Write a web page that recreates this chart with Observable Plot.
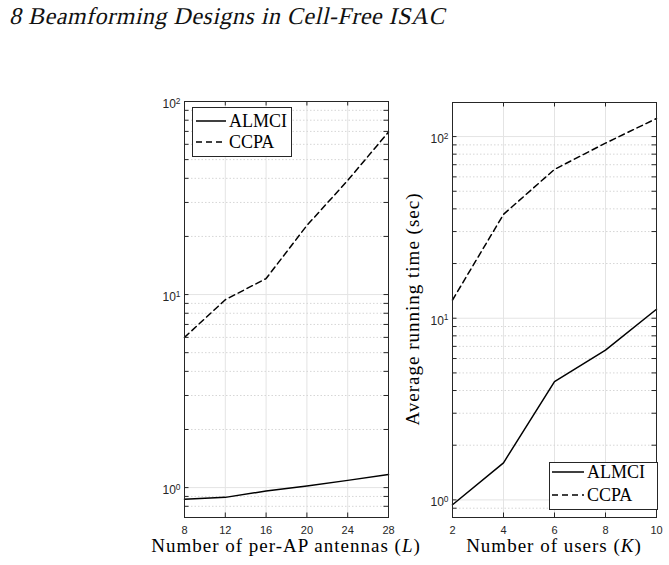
<!DOCTYPE html>
<html>
<head>
<meta charset="utf-8">
<script src="https://cdn.jsdelivr.net/npm/d3@7"></script>
<script src="https://cdn.jsdelivr.net/npm/@observablehq/plot@0.6"></script>
<style>
  body { margin: 0; background: #fff; }
  #page { position: relative; width: 669px; height: 565px; overflow: hidden; background: #fff; }
  .title { position: absolute; left: 9px; top: 4px; line-height: 24px; font-family: "Liberation Serif", serif; font-size: 24px; letter-spacing: 0.5px; color: #111; white-space: nowrap; transform: skewX(-13deg); transform-origin: 0 20px; }
  .panel { position: absolute; top: 80px; }
  .xlabel { position: absolute; top: 538px; line-height: 15px; font-family: "Liberation Serif", serif; font-size: 19px; letter-spacing: 1px; color: #000; white-space: nowrap; transform: translateX(-50%); }
  .ylabel { position: absolute; line-height: 19px; font-family: "Liberation Serif", serif; font-size: 19px; letter-spacing: 1px; color: #000; white-space: nowrap; transform: translate(-50%, -50%) rotate(-90deg); }
  .legend { position: absolute; box-sizing: border-box; border: 1px solid #262626; background: #fff; }
  .legend .row { position: absolute; height: 20px; display: flex; align-items: center; }
  .legend .row span { font-family: "Liberation Serif", serif; font-size: 18px; line-height: 20px; color: #000; margin-left: 3px; }
</style>
</head>
<body>
<div id="page">
  <div class="title">8 Beamforming Designs in Cell-Free ISAC</div>
</div>
<script>
// Running time vs. number of per-AP antennas L
const antennas = [8, 12, 16, 20, 24, 28];
const almciVsAntennas = [0.87, 0.89, 0.96, 1.02, 1.09, 1.17];
const ccpaVsAntennas = [6.0, 9.4, 12.1, 22.8, 39, 69.5];

// Running time vs. number of users K
const users = [2, 4, 6, 8, 10];
const almciVsUsers = [0.94, 1.6, 4.48, 6.67, 11.2];
const ccpaVsUsers = [12.6, 37.3, 66, 92, 125.7];

const seriesNames = ["ALMCI", "CCPA"];
const antennaTicks = [8, 12, 16, 20, 24, 28];
const userTicks = [2, 4, 6, 8, 10];
const decadeTicks = [1, 10, 100];

const ink = "#262626";
const majorGrid = "#e4e4e4";
const minorGrid = "#d6d6d6";
const ccpaDash = "6,4";

// 2..9 × 10^k between the axis limits
function minorTicks(lo, hi) {
  const out = [];
  for (let e = Math.floor(Math.log10(lo)); e <= Math.ceil(Math.log10(hi)); e++) {
    for (let m = 2; m <= 9; m++) {
      const v = +(m * Math.pow(10, e)).toPrecision(6);
      if (v > lo * 1.0001 && v < hi * 0.9999) out.push(v);
    }
  }
  return out;
}

// turn "10^2" tick labels into 10 with a raised exponent
function superscriptPowers(svg) {
  svg.querySelectorAll("text").forEach(t => {
    const m = /^10\^(-?\d+)$/.exec(t.textContent);
    if (!m) return;
    t.textContent = "10";
    t.setAttribute("font-size", "12");
    const sup = document.createElementNS("http://www.w3.org/2000/svg", "tspan");
    sup.setAttribute("dy", "-0.5em");
    sup.setAttribute("font-size", "0.7em");
    sup.textContent = m[1];
    t.appendChild(sup);
  });
}

function drawPanel({xs, almci, ccpa, xTicks, yDomain, width, height, margin}) {
  const fw = width - margin.left - margin.right;
  const fh = height - margin.top - margin.bottom;
  const tick = 4.5;
  const minors = minorTicks(yDomain[0], yDomain[1]);
  const majors = decadeTicks.filter(d => d >= yDomain[0] && d <= yDomain[1]);
  const almciRows = xs.map((x, i) => ({x, y: almci[i], series: seriesNames[0]}));
  const ccpaRows = xs.map((x, i) => ({x, y: ccpa[i], series: seriesNames[1]}));

  const svg = Plot.plot({
    width, height,
    marginLeft: margin.left, marginRight: margin.right,
    marginTop: margin.top, marginBottom: margin.bottom,
    style: {fontFamily: "'Liberation Sans', Arial, sans-serif", fontSize: "11px", color: ink, background: "transparent", overflow: "visible"},
    x: {domain: [xTicks[0], xTicks[xTicks.length - 1]]},
    y: {type: "log", domain: yDomain},
    marks: [
      Plot.gridX({ticks: xTicks, stroke: majorGrid, strokeOpacity: 1}),
      Plot.ruleY(minors, {stroke: minorGrid, strokeDasharray: "1.5,2"}),
      Plot.gridY({ticks: majors, stroke: majorGrid, strokeOpacity: 1}),
      Plot.line(almciRows, {x: "x", y: "y", stroke: "#000", strokeWidth: 1.5}),
      Plot.line(ccpaRows, {x: "x", y: "y", stroke: "#000", strokeWidth: 1.5, strokeDasharray: ccpaDash}),
      // inward tick marks on all four sides
      Plot.tickX(xTicks, {x: d => d, stroke: ink, insetTop: fh - tick}),
      Plot.tickX(xTicks, {x: d => d, stroke: ink, insetBottom: fh - tick}),
      Plot.tickY(majors.concat(minors), {y: d => d, stroke: ink, insetRight: fw - tick}),
      Plot.tickY(majors.concat(minors), {y: d => d, stroke: ink, insetLeft: fw - tick}),
      Plot.frame({stroke: ink}),
      Plot.axisX({ticks: xTicks, tickSize: 0, tickPadding: 8.5, label: null, tickFormat: d => String(d)}),
      Plot.axisY({ticks: majors, tickSize: 0, tickPadding: 4, label: null, dy: 2.5,
                  tickFormat: d => `10^${Math.round(Math.log10(d))}`})
    ]
  });
  superscriptPowers(svg);
  return svg;
}

function legend({left, top, width, height, rows}) {
  const box = document.createElement("div");
  box.className = "legend";
  Object.assign(box.style, {left: left + "px", top: top + "px", width: width + "px", height: height + "px"});
  seriesNames.forEach((name, i) => {
    const row = document.createElement("div");
    row.className = "row";
    row.style.left = rows.padLeft + "px";
    row.style.top = rows.tops[i] + "px";
    const sample = d3.create("svg").attr("width", rows.sample).attr("height", 20);
    sample.append("line")
      .attr("x1", 0).attr("x2", rows.sample).attr("y1", 10).attr("y2", 10)
      .attr("stroke", "#000").attr("stroke-width", 1.5)
      .attr("stroke-dasharray", i === 1 ? ccpaDash : null);
    row.appendChild(sample.node());
    const label = document.createElement("span");
    label.textContent = name;
    row.appendChild(label);
    box.appendChild(row);
  });
  return box;
}

const page = document.getElementById("page");

function addText(cls, html, left, top) {
  const el = document.createElement("div");
  el.className = cls;
  el.innerHTML = html;
  el.style.left = left + "px";
  if (top != null) el.style.top = top + "px";
  page.appendChild(el);
  return el;
}

// left panel: versus L
const left = drawPanel({
  xs: antennas, almci: almciVsAntennas, ccpa: ccpaVsAntennas,
  xTicks: antennaTicks, yDomain: [0.7, 100],
  width: 300, height: 485, margin: {left: 84, right: 12, top: 21, bottom: 48}
});
const leftWrap = document.createElement("div");
leftWrap.className = "panel";
leftWrap.style.left = "100px";
leftWrap.appendChild(left);
page.appendChild(leftWrap);

// right panel: versus K
const right = drawPanel({
  xs: users, almci: almciVsUsers, ccpa: ccpaVsUsers,
  xTicks: userTicks, yDomain: [0.8, 154],
  width: 269, height: 485, margin: {left: 52, right: 13, top: 22, bottom: 48}
});
const rightWrap = document.createElement("div");
rightWrap.className = "panel";
rightWrap.style.left = "400px";
rightWrap.appendChild(right);
page.appendChild(rightWrap);

addText("xlabel", "Number of per-AP antennas (<i>L</i>)", 286);
addText("xlabel", "Number of users (<i>K</i>)", 554);
addText("ylabel", "Average running time (sec)", 412, 309);

page.appendChild(legend({left: 192, top: 107, width: 100, height: 50,
  rows: {padLeft: 3, sample: 30, tops: [2.6, 24.2]}}));
page.appendChild(legend({left: 549, top: 462, width: 109, height: 48,
  rows: {padLeft: 2, sample: 32, tops: [-1, 22.4]}}));
</script>
</body>
</html>
